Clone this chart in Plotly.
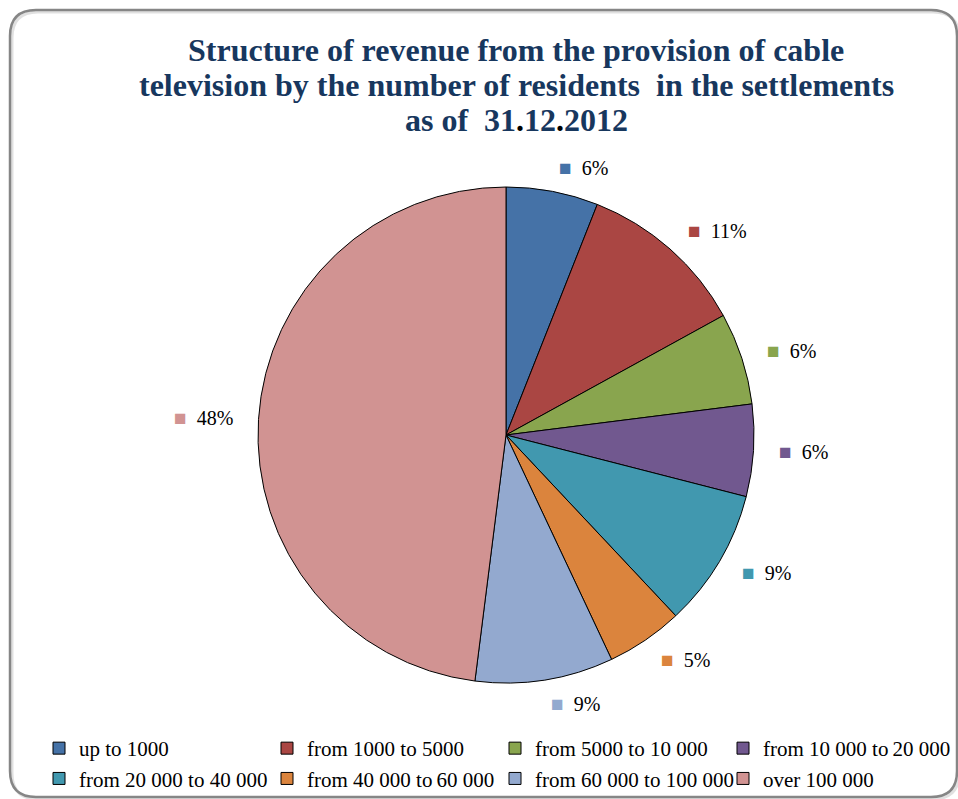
import math
import plotly.graph_objects as go

# Revenue shares by settlement size (percent)
categories = [
    "up to 1000",
    "from 1000 to 5000",
    "from 5000 to 10 000",
    "from 10 000 to\u200920 000",
    "from 20 000 to 40 000",
    "from 40 000 to\u200960 000",
    "from 60 000 to 100 000",
    "over 100 000",
]
shares = [6, 11, 6, 6, 9, 5, 9, 48]
colors = ["#4572A7", "#AA4643", "#89A54E", "#71588F",
          "#4198AF", "#DB843D", "#93A9CF", "#D19392"]
title_lines = [
    "Structure of revenue from the provision of cable",
    "television by the number of residents  in the settlements",
    "as of  31<span style='color:#000000'>.</span>12"
    "<span style='color:#000000'>.</span>2012",
]

W, H = 958, 799
CX, CY, R = 506, 435, 248  # pie centre and radius in pixels
SERIF = "Liberation Serif, Times New Roman, serif"


def px(x):
    return x / W


def py(y):
    return 1 - y / H


fig = go.Figure(go.Pie(
    labels=categories,
    values=shares,
    sort=False,
    direction="clockwise",
    rotation=0,
    marker=dict(colors=colors, line=dict(color="#000000", width=1)),
    textinfo="none",
    hoverinfo="label+percent",
    domain=dict(x=[px(CX - R), px(CX + R)], y=[py(CY + R), py(CY - R)]),
))

# Outside percentage labels with a colour key, placed from each slice's mid-angle
total = sum(shares)
cum = 0
LABEL_R = R + 24
for v, c in zip(shares, colors):
    mid = (cum + v / 2) / total * 2 * math.pi
    cum += v
    s, co = math.sin(mid), math.cos(mid)
    fig.add_annotation(
        x=px(CX + LABEL_R * s), y=py(CY - LABEL_R * co),
        xref="paper", yref="paper",
        xanchor="left" if s >= 0 else "right", yanchor="middle",
        showarrow=False,
        text=f"<span style='color:{c};font-size:21px'>■</span>&nbsp;&nbsp;{v}%",
        font=dict(family=SERIF, size=20, color="#000000"),
    )

# Title, one annotation per line
for i, line in enumerate(title_lines):
    fig.add_annotation(
        x=px(516), y=py(50 + 35 * i), xref="paper", yref="paper",
        xanchor="center", yanchor="middle", showarrow=False,
        text=line,
        font=dict(family=SERIF, size=32, color="#17375E", weight="bold"),
    )

# Rounded frame around the chart, with a faint shadow
rr = 26


def frame_path(l, t, r, b):
    return (f"M {px(l + rr)},{py(t)} L {px(r - rr)},{py(t)} "
            f"Q {px(r)},{py(t)} {px(r)},{py(t + rr)} "
            f"L {px(r)},{py(b - rr)} Q {px(r)},{py(b)} {px(r - rr)},{py(b)} "
            f"L {px(l + rr)},{py(b)} Q {px(l)},{py(b)} {px(l)},{py(b - rr)} "
            f"L {px(l)},{py(t + rr)} Q {px(l)},{py(t)} {px(l + rr)},{py(t)} Z")


fig.add_shape(type="path", xref="paper", yref="paper",
              path=frame_path(12, 12, 959, 799),
              line=dict(color="rgba(0,0,0,0.12)", width=3),
              fillcolor="rgba(0,0,0,0)", layer="below")
fig.add_shape(type="path", xref="paper", yref="paper",
              path=frame_path(10, 10, 957, 797),
              line=dict(color="#868686", width=2.5),
              fillcolor="rgba(0,0,0,0)", layer="below")

fig.update_layout(
    width=W, height=H,
    margin=dict(l=0, r=0, t=0, b=0),
    paper_bgcolor="#FFFFFF",
    plot_bgcolor="#FFFFFF",
    showlegend=True,
    legend=dict(
        orientation="h",
        x=px(39), xanchor="left",
        y=py(728), yanchor="top",
        font=dict(family=SERIF, size=21, color="#000000"),
        entrywidth=183, entrywidthmode="pixels",
        itemwidth=30,
        tracegroupgap=0,
        bgcolor="rgba(0,0,0,0)",
        traceorder="normal",
    ),
)

fig.write_html("out.html")
